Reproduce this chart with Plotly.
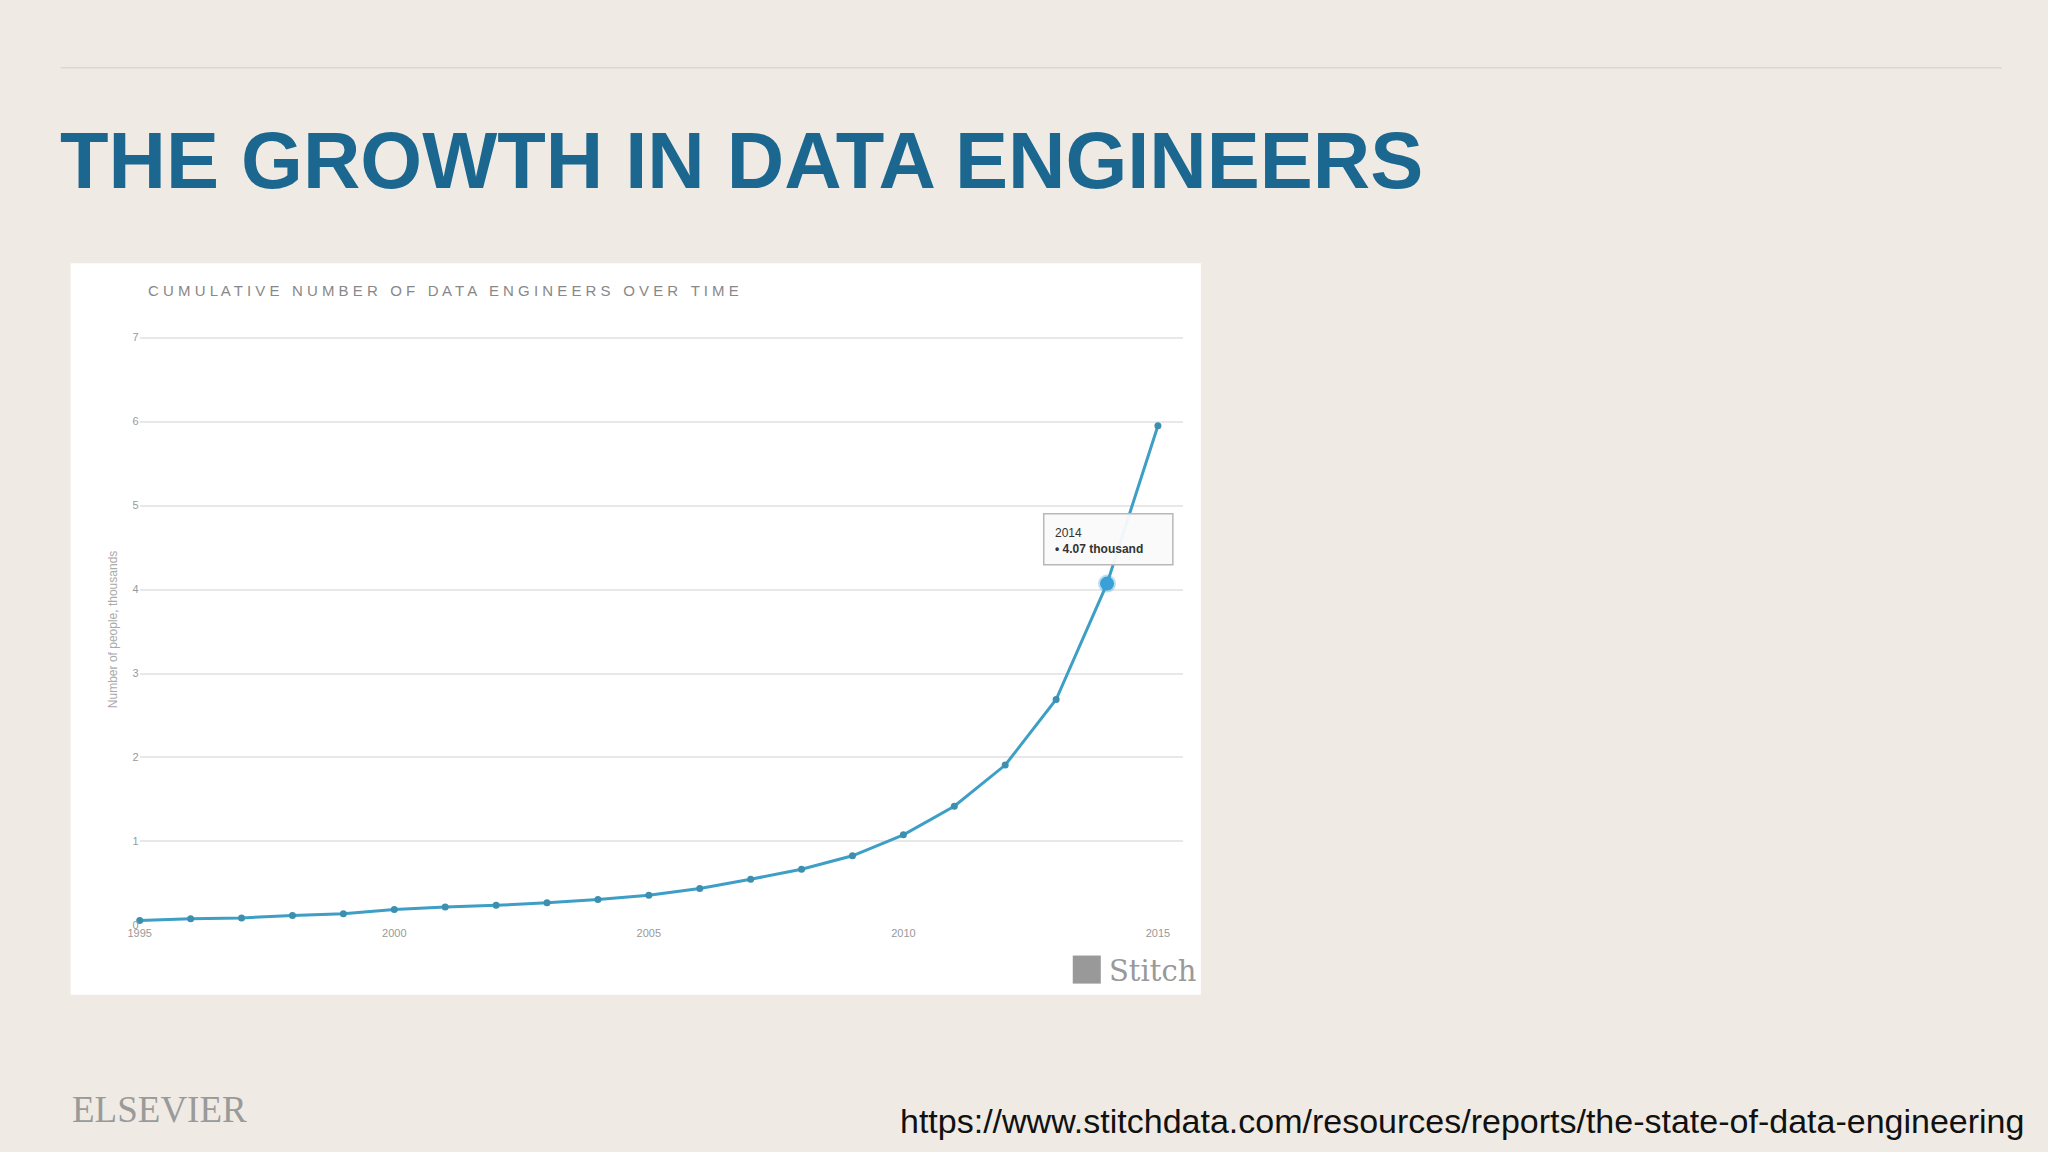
import plotly.graph_objects as go

years = list(range(1995, 2016))
values = [0.06, 0.08, 0.09, 0.12, 0.14, 0.19, 0.22, 0.24, 0.27, 0.31, 0.36, 0.44,
          0.55, 0.67, 0.83, 1.08, 1.42, 1.91, 2.69, 4.07, 5.95]
x_ticks = [1995, 2000, 2005, 2010, 2015]
y_ticks = [0, 1, 2, 3, 4, 5, 6, 7]

W, H = 2048, 1152
def px(x): return (71 + (x - 71) * 1.007 - 12) / W
def py(y): return 1 - (263 + (y - 263) * 1.009) / H

fig = go.Figure()
fig.add_trace(go.Scatter(x=years, y=values, mode="lines+markers",
                         line=dict(color="#3d9ec6", width=3),
                         marker=dict(size=7, color="#3d8fb0"), cliponaxis=False,
                         hoverinfo="skip"))
fig.add_trace(go.Scatter(x=[2014], y=[4.07], mode="markers",
                         marker=dict(size=14, color="#3aa0d8", line=dict(color="rgba(58,160,216,0.35)", width=4)),
                         hoverinfo="skip", cliponaxis=False))

fig.update_layout(
    width=W, height=H, showlegend=False,
    paper_bgcolor="#efebe4", plot_bgcolor="rgba(0,0,0,0)",
    margin=dict(l=0, r=0, t=0, b=0),
    xaxis=dict(domain=[px(140), px(1182)], range=[1995, 2015.49], tickvals=x_ticks,
               ticktext=[str(t) for t in x_ticks], showgrid=False, zeroline=False,
               tickfont=dict(size=11, color="#999999", family="Liberation Sans"), ticks=""),
    yaxis=dict(domain=[py(924), py(333)], range=[0, 7.05], tickvals=y_ticks,
               showgrid=True, gridcolor="#e8e8e8", gridwidth=2, zeroline=False,
               tickfont=dict(size=11, color="#999999", family="Liberation Sans"),
               title=dict(text="Number of people, thousands", font=dict(size=12, color="#aaaaaa", family="Liberation Sans"), standoff=12)),
    shapes=[
        dict(type="rect", xref="paper", yref="paper", x0=px(71), x1=px(1200), y0=py(993), y1=py(263),
             fillcolor="white", line=dict(width=0), layer="below"),
        dict(type="line", xref="paper", yref="paper", x0=px(61), x1=px(2000), y0=py(68), y1=py(68),
             line=dict(color="#dcd8d0", width=1.5)),
        dict(type="rect", xref="paper", yref="paper", x0=px(1043), x1=px(1172), y0=py(564), y1=py(513),
             fillcolor="rgba(250,250,250,0.95)", line=dict(color="#b8b8b8", width=1.5)),
        dict(type="rect", xref="paper", yref="paper", x0=px(1072), x1=px(1100), y0=py(982), y1=py(954),
             fillcolor="#999999", line=dict(width=0)),
    ],
    annotations=[
        dict(text="<b>THE GROWTH IN DATA ENGINEERS</b>", xref="paper", yref="paper", x=px(58), y=py(161),
             xanchor="left", yanchor="middle", showarrow=False,
             font=dict(size=79.5, color="#1b678f", family="Liberation Sans")),
        dict(text="C U M U L A T I V E  &nbsp;N U M B E R  &nbsp;O F  &nbsp;D A T A  &nbsp;E N G I N E E R S  &nbsp;O V E R  &nbsp;T I M E",
             xref="paper", yref="paper", x=px(146), y=py(290), xanchor="left", yanchor="middle",
             showarrow=False, font=dict(size=15, color="#888888", family="Liberation Sans")),
        dict(text="2014<br><b>• 4.07 thousand</b>", xref="paper", yref="paper", x=px(1052), y=py(540),
             xanchor="left", yanchor="middle", align="left", showarrow=False,
             font=dict(size=12, color="#333333", family="Liberation Sans")),
        dict(text="Stitch", xref="paper", yref="paper", x=px(1106), y=py(969), xanchor="left", yanchor="middle",
             showarrow=False, font=dict(size=29, color="#999999", family="DejaVu Serif")),
        dict(text="ELSEVIER", xref="paper", yref="paper", x=px(70), y=py(1108), xanchor="left", yanchor="middle",
             showarrow=False, font=dict(size=37, color="#9a9a9a", family="Liberation Serif")),
        dict(text="https://www.stitchdata.com/resources/reports/the-state-of-data-engineering", xref="paper", yref="paper",
             x=px(2024), y=py(1119), xanchor="right", yanchor="middle", showarrow=False,
             font=dict(size=34, color="#111111", family="Liberation Sans")),
    ],
)
fig.write_html("out.html", config={"displayModeBar": False},
               post_script="document.body.style.margin='0';document.body.style.overflow='hidden';")
